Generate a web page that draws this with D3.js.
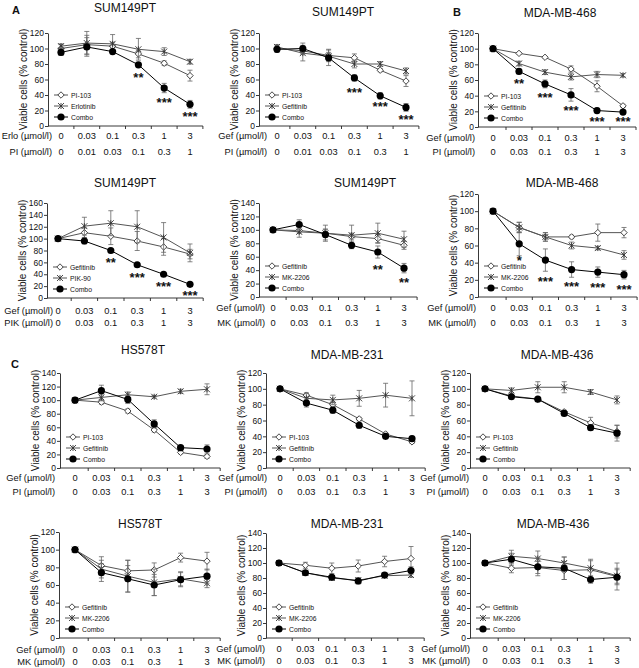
<!DOCTYPE html>
<html><head><meta charset="utf-8">
<script src="https://cdn.jsdelivr.net/npm/d3@7"></script>
<style>body{margin:0;background:#fff} svg{display:block;font-family:Arial,"Liberation Sans",sans-serif}</style>
</head><body>
<svg id="c" width="639" height="668"></svg>
<script>
// ---------- categories / tick labels ----------
const doses6 = ["0","0.03","0.1","0.3","1","3"];
const dosesPIa = ["0","0.01","0.03","0.1","0.3","1"];

// ---------- Panel 1: SUM149PT, PI-103 + Erlotinib ----------
const p1PI = [100,105,103,93,81,65];      const p1PIe = [5,12,5,5,3,7];
const p1Erlo = [103,107,106,99,96,83];    const p1ErloE = [3,15,12,14,5,3];
const p1Combo = [95,102,96,79,49,28];     const p1ComboE = [4,12,3,3,6,5];
const p1StarText = ["","","","**","***","***"];
const p1StarY = [0,0,0,66,34,16];

// ---------- Panel 2: SUM149PT, PI-103 + Gefitinib ----------
const p2PI = [100,97,91,88,72,58];        const p2PIe = [3,4,8,5,2,7];
const p2Gef = [102,94,90,80,80,71];       const p2GefE = [3,10,5,5,3,4];
const p2Combo = [99,100,88,62,39,24];     const p2ComboE = [4,7,10,4,4,5];
const p2StarText = ["","","","***","***","***"];
const p2StarY = [0,0,0,47,28,11];

// ---------- Panel 3: MDA-MB-468, PI-103 + Gefitinib ----------
const p3PI = [100,94,89,74,52,27];        const p3PIe = [2,1,1,4,7,2];
const p3Gef = [100,81,70,64,67,66];       const p3GefE = [2,3,3,4,4,2];
const p3Combo = [100,71,55,41,21,19];     const p3ComboE = [2,3,5,8,3,3];
const p3StarText = ["","**","***","***","***","***"];
const p3StarY = [0,59,41,24,10,10];

// ---------- Panel 4: SUM149PT, Gefitinib + PIK-90 ----------
const p4Gef = [100,110,104,96,86,74];     const p4GefE = [2,8,14,16,14,8];
const p4PIK = [100,121,126,120,102,76];   const p4PIKE = [2,15,21,27,25,15];
const p4Combo = [100,96,80,56,40,23];     const p4ComboE = [2,5,2,2,2,2];
const p4StarText = ["","","**","***","***","***"];
const p4StarY = [0,0,64,39,23,9];

// ---------- Panel 5: SUM149PT, Gefitinib + MK-2206 ----------
const p5Gef = [100,99,95,90,87,77];       const p5GefE = [3,4,6,5,6,6];
const p5MK = [100,97,95,92,95,86];        const p5MKE = [3,8,12,15,15,12];
const p5Combo = [100,108,93,77,67,43];    const p5ComboE = [3,7,8,5,9,7];
const p5StarText = ["","","","","**","**"];
const p5StarY = [0,0,0,0,45,26];

// ---------- Panel 6: MDA-MB-468, Gefitinib + MK-2206 ----------
const p6Gef = [100,81,70,70,75,75];       const p6GefE = [2,6,5,2,10,6];
const p6MK = [100,81,70,60,57,49];        const p6MKE = [2,6,5,4,2,5];
const p6Combo = [100,62,43,32,29,26];     const p6ComboE = [2,14,13,9,6,5];
const p6StarText = ["","*","***","***","***","***"];
const p6StarY = [0,46,21,15,14,12];

// ---------- Panel 7: HS578T, PI-103 + Gefitinib ----------
const p7PI = [100,97,84,56,23,17];        const p7PIe = [2,3,3,3,2,3];
const p7Gef = [100,104,108,105,113,116];  const p7GefE = [2,5,4,2,3,8];
const p7Combo = [100,114,101,65,30,28];   const p7ComboE = [3,8,6,6,3,6];

// ---------- Panel 8: MDA-MB-231, PI-103 + Gefitinib ----------
const p8PI = [100,92,80,62,43,33];        const p8PIe = [2,3,3,2,2,2];
const p8Gef = [100,88,86,88,92,88];       const p8GefE = [2,6,6,10,15,22];
const p8Combo = [100,82,73,54,40,37];     const p8ComboE = [2,5,4,4,3,3];

// ---------- Panel 9: MDA-MB-436, PI-103 + Gefitinib ----------
const p9PI = [100,91,87,71,57,46];        const p9PIe = [2,2,2,2,7,8];
const p9Gef = [100,98,102,102,96,86];     const p9GefE = [2,3,7,7,3,5];
const p9Combo = [100,90,87,69,51,44];     const p9ComboE = [2,2,2,2,3,10];

// ---------- Panel 10: HS578T, Gefitinib + MK-2206 ----------
const p10Gef = [100,82,76,77,91,87];      const p10GefE = [2,10,12,8,5,10];
const p10MK = [100,78,70,63,67,62];       const p10MKE = [2,10,18,15,8,5];
const p10Combo = [100,74,67,60,66,70];    const p10ComboE = [2,10,15,12,8,8];

// ---------- Panel 11: MDA-MB-231, Gefitinib + MK-2206 ----------
const p11Gef = [100,97,93,96,102,106];    const p11GefE = [2,4,7,8,7,16];
const p11MK = [100,87,80,77,83,84];       const p11MKE = [2,2,3,3,3,3];
const p11Combo = [100,87,81,76,84,90];    const p11ComboE = [2,3,3,4,3,5];

// ---------- Panel 12: MDA-MB-436, Gefitinib + MK-2206 ----------
const p12Gef = [100,93,94,90,91,82];      const p12GefE = [2,6,8,12,12,18];
const p12MK = [100,109,106,100,93,83];    const p12MKE = [2,8,10,8,12,10];
const p12Combo = [100,105,95,93,78,81];   const p12ComboE = [2,8,12,15,5,10];

const noStars = ["","","","","",""];
const noStarY = [0,0,0,0,0,0];

function S(name, mark, v, e){ return {name, mark, v, e}; }

const panels = [
 {title:"SUM149PT", rows:["Erlo (µmol/l)","PI (µmol/l)"], rowVals:[doses6,dosesPIa], yMax:120,
  series:[S("PI-103","diamond",p1PI,p1PIe),S("Erlotinib","xstar",p1Erlo,p1ErloE),S("Combo","circle",p1Combo,p1ComboE)], stars:p1StarText, starY:p1StarY},
 {title:"SUM149PT", rows:["Gef (µmol/l)","PI (µmol/l)"], rowVals:[doses6,dosesPIa], yMax:120,
  series:[S("PI-103","diamond",p2PI,p2PIe),S("Gefitinib","xstar",p2Gef,p2GefE),S("Combo","circle",p2Combo,p2ComboE)], stars:p2StarText, starY:p2StarY},
 {title:"MDA-MB-468", rows:["Gef (µmol/l)","PI (µmol/l)"], rowVals:[doses6,doses6], yMax:120,
  series:[S("PI-103","diamond",p3PI,p3PIe),S("Gefitinib","xstar",p3Gef,p3GefE),S("Combo","circle",p3Combo,p3ComboE)], stars:p3StarText, starY:p3StarY},
 {title:"SUM149PT", rows:["Gef (µmol/l)","PIK (µmol/l)"], rowVals:[doses6,doses6], yMax:160,
  series:[S("Gefitinib","diamond",p4Gef,p4GefE),S("PIK-90","xstar",p4PIK,p4PIKE),S("Combo","circle",p4Combo,p4ComboE)], stars:p4StarText, starY:p4StarY},
 {title:"SUM149PT", rows:["Gef (µmol/l)","MK (µmol/l)"], rowVals:[doses6,doses6], yMax:140,
  series:[S("Gefitinib","diamond",p5Gef,p5GefE),S("MK-2206","xstar",p5MK,p5MKE),S("Combo","circle",p5Combo,p5ComboE)], stars:p5StarText, starY:p5StarY},
 {title:"MDA-MB-468", rows:["Gef (µmol/l)","MK (µmol/l)"], rowVals:[doses6,doses6], yMax:120,
  series:[S("Gefitinib","diamond",p6Gef,p6GefE),S("MK-2206","xstar",p6MK,p6MKE),S("Combo","circle",p6Combo,p6ComboE)], stars:p6StarText, starY:p6StarY},
 {title:"HS578T", rows:["Gef (µmol/l)","PI (µmol/l)"], rowVals:[doses6,doses6], yMax:140,
  series:[S("PI-103","diamond",p7PI,p7PIe),S("Gefitinib","xstar",p7Gef,p7GefE),S("Combo","circle",p7Combo,p7ComboE)], stars:noStars, starY:noStarY},
 {title:"MDA-MB-231", rows:["Gef (µmol/l)","PI (µmol/l)"], rowVals:[doses6,doses6], yMax:120,
  series:[S("PI-103","diamond",p8PI,p8PIe),S("Gefitinib","xstar",p8Gef,p8GefE),S("Combo","circle",p8Combo,p8ComboE)], stars:noStars, starY:noStarY},
 {title:"MDA-MB-436", rows:["Gef (µmol/l)","PI (µmol/l)"], rowVals:[doses6,doses6], yMax:120,
  series:[S("PI-103","diamond",p9PI,p9PIe),S("Gefitinib","xstar",p9Gef,p9GefE),S("Combo","circle",p9Combo,p9ComboE)], stars:noStars, starY:noStarY},
 {title:"HS578T", rows:["Gef (µmol/l)","MK (µmol/l)"], rowVals:[doses6,doses6], yMax:120,
  series:[S("Gefitinib","diamond",p10Gef,p10GefE),S("MK-2206","xstar",p10MK,p10MKE),S("Combo","circle",p10Combo,p10ComboE)], stars:noStars, starY:noStarY},
 {title:"MDA-MB-231", rows:["Gef (µmol/l)","MK (µmol/l)"], rowVals:[doses6,doses6], yMax:140,
  series:[S("Gefitinib","diamond",p11Gef,p11GefE),S("MK-2206","xstar",p11MK,p11MKE),S("Combo","circle",p11Combo,p11ComboE)], stars:noStars, starY:noStarY},
 {title:"MDA-MB-436", rows:["Gef (µmol/l)","MK (µmol/l)"], rowVals:[doses6,doses6], yMax:140,
  series:[S("Gefitinib","diamond",p12Gef,p12GefE),S("MK-2206","xstar",p12MK,p12MKE),S("Combo","circle",p12Combo,p12ComboE)], stars:noStars, starY:noStarY}
];

// ---------- layout (positions only) ----------
const layout = [
 {axisX:48,  x0:61,  x1:190, yTop:33,  yBot:126, tX:125, tY:8,   rowY:[136,152], lEnd:52},
 {axisX:259, x0:277, x1:406, yTop:33,  yBot:126, tX:343, tY:12,  rowY:[136,152], lEnd:267},
 {axisX:478, x0:493, x1:623, yTop:33,  yBot:127, tX:560, tY:13,  rowY:[138,152], lEnd:475},
 {axisX:47,  x0:58,  x1:190, yTop:203, yBot:298, tX:125, tY:183, rowY:[311,323], lEnd:53},
 {axisX:259, x0:273, x1:404, yTop:203, yBot:297, tX:365, tY:183, rowY:[308,323], lEnd:265},
 {axisX:478, x0:493, x1:624, yTop:194, yBot:297, tX:562, tY:183, rowY:[308,323], lEnd:476},
 {axisX:60,  x0:75,  x1:207, yTop:373, yBot:468, tX:143, tY:350, rowY:[478,492], lEnd:55},
 {axisX:266, x0:280, x1:412, yTop:373, yBot:468, tX:347, tY:355, rowY:[478,492], lEnd:267},
 {axisX:470, x0:485, x1:617, yTop:373, yBot:468, tX:557, tY:355, rowY:[478,492], lEnd:469},
 {axisX:59,  x0:75,  x1:207, yTop:532, yBot:638, tX:140, tY:524, rowY:[650,662], lEnd:65},
 {axisX:266, x0:279, x1:411, yTop:533, yBot:638, tX:347, tY:524, rowY:[649,661], lEnd:265},
 {axisX:470, x0:485, x1:617, yTop:533, yBot:638, tX:553, tY:524, rowY:[649,661], lEnd:470}
];

const svg = d3.select("#c");
const INK = "#000", GRAY = "#555";

function drawMarker(g, mark, cx, cy){
  if (mark === "circle") {
    g.append("circle").attr("cx",cx).attr("cy",cy).attr("r",3.6).attr("fill",INK);
  } else if (mark === "diamond") {
    const s = 3.2;
    g.append("path").attr("d",`M${cx},${cy-s}L${cx+s},${cy}L${cx},${cy+s}L${cx-s},${cy}Z`)
      .attr("fill","#fff").attr("stroke","#333").attr("stroke-width",0.9);
  } else {
    const s = 3;
    g.append("path").attr("d",`M${cx-s},${cy-s}L${cx+s},${cy+s}M${cx-s},${cy+s}L${cx+s},${cy-s}M${cx},${cy-s}L${cx},${cy+s}`)
      .attr("fill","none").attr("stroke","#333").attr("stroke-width",0.9);
  }
}

panels.forEach((p, k) => {
  const L = layout[k];
  const g = svg.append("g");
  const idx = d3.range(6);
  const x = d3.scalePoint().domain(idx).range([L.x0, L.x1]);
  const step = x.step();
  const y = d3.scaleLinear().domain([0, p.yMax]).range([L.yBot, L.yTop]);

  // y axis
  const ya = g.append("g").attr("transform",`translate(${L.axisX},0)`)
    .call(d3.axisLeft(y).tickValues(d3.range(0, p.yMax + 1, 20)).tickSize(3).tickPadding(1).tickSizeOuter(0));
  ya.selectAll("path,line").attr("stroke","#222").attr("stroke-width",0.9);
  ya.selectAll("text").attr("font-size",8.5).attr("fill","#111").attr("font-family","Arial, 'Liberation Sans', sans-serif");

  // x axis (categorical, ticks between categories)
  const xEnd = L.x1 + step/2;
  g.append("line").attr("x1",L.axisX).attr("x2",xEnd).attr("y1",L.yBot).attr("y2",L.yBot)
    .attr("stroke","#222").attr("stroke-width",0.9);
  idx.forEach(i => {
    const tx = x(i) + step/2;
    g.append("line").attr("x1",tx).attr("x2",tx).attr("y1",L.yBot).attr("y2",L.yBot+3)
      .attr("stroke","#222").attr("stroke-width",0.9);
  });

  // y axis title
  g.append("text").attr("transform",`translate(${L.axisX-25},${(L.yTop+L.yBot)/2}) rotate(-90)`)
    .attr("text-anchor","middle").attr("dominant-baseline","central")
    .attr("font-size",10).attr("fill","#111").text("Viable cells (% control)");

  // chart title
  g.append("text").attr("x",L.tX).attr("y",L.tY).attr("text-anchor","middle").attr("dominant-baseline","central")
    .attr("font-size",12).attr("fill","#111").text(p.title);

  // dose rows
  p.rows.forEach((lab, r) => {
    g.append("text").attr("x",L.lEnd).attr("y",L.rowY[r]).attr("text-anchor","end").attr("dominant-baseline","central")
      .attr("font-size",9.3).attr("fill","#111").text(lab);
    p.rowVals[r].forEach((v, i) => {
      g.append("text").attr("x",x(i)).attr("y",L.rowY[r]).attr("text-anchor","middle").attr("dominant-baseline","central")
        .attr("font-size",9.3).attr("fill","#111").text(v);
    });
  });

  // series
  p.series.forEach((s, si) => {
    const isCombo = s.mark === "circle";
    const sg = g.append("g");
    s.v.forEach((v, i) => {
      const cx = x(i), hi = y(v + s.e[i]), lo = y(Math.max(0, v - s.e[i]));
      sg.append("path").attr("d",`M${cx},${hi}V${lo}M${cx-2.5},${hi}H${cx+2.5}M${cx-2.5},${lo}H${cx+2.5}`)
        .attr("stroke","#666").attr("stroke-width",0.8).attr("fill","none");
    });
    sg.append("path").datum(s.v)
      .attr("d", d3.line().x((d,i)=>x(i)).y(d=>y(d)))
      .attr("fill","none").attr("stroke", isCombo ? INK : GRAY).attr("stroke-width",1);
    s.v.forEach((v, i) => drawMarker(sg, s.mark, x(i), y(v)));
  });

  // legend
  const legOff = [31, 20, 9];
  p.series.forEach((s, si) => {
    const ly = L.yBot - legOff[si];
    const x1 = L.axisX + 6, x2 = L.axisX + 20;
    g.append("line").attr("x1",x1).attr("x2",x2).attr("y1",ly).attr("y2",ly)
      .attr("stroke", s.mark === "circle" ? INK : GRAY).attr("stroke-width",1);
    drawMarker(g, s.mark, (x1+x2)/2, ly);
    g.append("text").attr("x",L.axisX+23).attr("y",ly).attr("dominant-baseline","central")
      .attr("font-size",6.8).attr("fill","#111").text(s.name);
  });

  // significance stars
  p.stars.forEach((t, i) => {
    if (!t) return;
    g.append("text").attr("x",x(i)).attr("y",y(p.starY[i]) + 7)
      .attr("text-anchor","middle").attr("font-size",13).attr("font-weight","bold").attr("fill","#111").text(t);
  });
});

// panel letters
[["A",16,10],["B",457,12],["C",15,364]].forEach(([t,lx,ly]) => {
  svg.append("text").attr("x",lx).attr("y",ly).attr("text-anchor","middle").attr("dominant-baseline","central")
    .attr("font-size",11).attr("font-weight","bold").attr("fill","#111").text(t);
});
</script>
</body></html>
